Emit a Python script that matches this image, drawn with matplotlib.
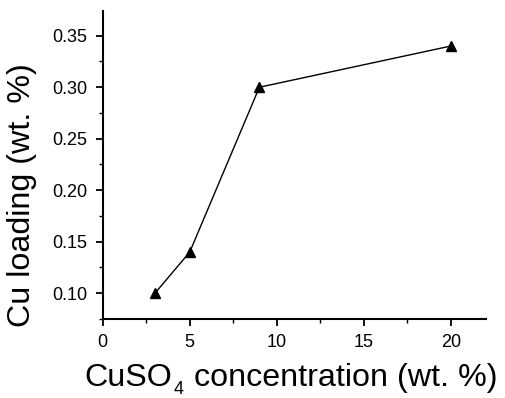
import matplotlib
matplotlib.use("Agg")
import matplotlib.pyplot as plt
from matplotlib.ticker import MultipleLocator

plt.rcParams['font.family'] = ['Liberation Sans', 'DejaVu Sans']

concentration = [3, 5, 9, 20]
cu_loading = [0.10, 0.14, 0.30, 0.34]
x_ticks = [0, 5, 10, 15, 20]
y_ticks = [0.10, 0.15, 0.20, 0.25, 0.30, 0.35]

W, H = 506, 398
fig = plt.figure(figsize=(W / 100, H / 100), dpi=100)
ax = fig.add_axes([102.7 / W, 79 / H, 383 / W, 308 / H])

ax.plot(concentration, cu_loading, color='black', linewidth=1.0,
        marker='^', markersize=6.5, markerfacecolor='black', markeredgecolor='black')

ax.set_xlim(0, 22)
ax.set_ylim(0.075, 0.374)
ax.set_xticks(x_ticks)
ax.set_yticks(y_ticks)
ax.set_xticklabels([str(v) for v in x_ticks])
ax.set_yticklabels([f"{v:.2f}" for v in y_ticks])
ax.xaxis.set_minor_locator(MultipleLocator(2.5))
ax.yaxis.set_minor_locator(MultipleLocator(0.025))

for s in ['top', 'right']:
    ax.spines[s].set_visible(False)
for s in ['left', 'bottom']:
    ax.spines[s].set_linewidth(1.5)

ax.tick_params(which='major', direction='out', length=5, width=1.3, labelsize=13, pad=6)
ax.tick_params(which='minor', direction='out', length=3, width=1.0)

# x label built from pieces so the subscript sits low like the reference
fs = 23.2
renderer = fig.canvas.get_renderer()
base_y = 1 - 386 / H
t1 = fig.text(84 / W, base_y, 'CuSO', fontsize=fs, ha='left', va='baseline')
bb1 = t1.get_window_extent(renderer)
x2 = bb1.x1 + 2
t2 = fig.text(x2 / W, 1 - 393.5 / H, '4', fontsize=13, ha='left', va='baseline')
bb2 = t2.get_window_extent(renderer)
t3 = fig.text((bb2.x1 + 1) / W, base_y, ' concentration (wt. %)', fontsize=fs,
              ha='left', va='baseline')

fig.text(22 / W, 1 - 195 / H, 'Cu loading (wt. %)', fontsize=fs,
         ha='center', va='center', rotation=90)

fig.savefig('out.png', dpi=100)
